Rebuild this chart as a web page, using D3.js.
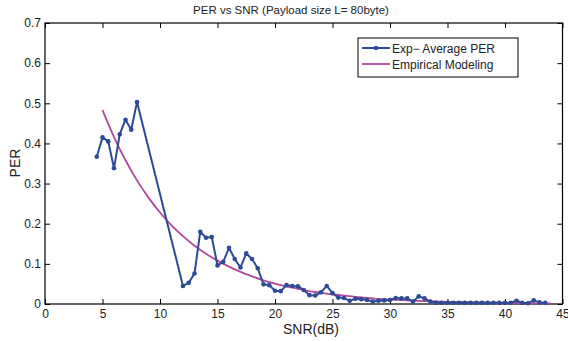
<!DOCTYPE html>
<html><head><meta charset="utf-8">
<script src="https://cdn.jsdelivr.net/npm/d3@7"></script>
<style>body{margin:0;background:#fff}svg{display:block}text{font-family:"Liberation Sans",Arial,sans-serif}</style>
</head><body><svg id="c" width="568" height="341"></svg>
<script>
const expSNR = [4.5,5,5.5,6,6.5,7,7.5,8,12,12.5,13,13.5,14,14.5,15,15.5,16,16.5,17,17.5,18,18.5,19,19.5,20,20.5,21,21.5,22,22.5,23,23.5,24,24.5,25,25.5,26,26.5,27,27.5,28,28.5,29,29.5,30,30.5,31,31.5,32,32.5,33,33.5,34,34.5,35,35.5,36,36.5,37,37.5,38,38.5,39,39.5,40,40.5,41,41.5,42,42.5,43,43.5];
const expPER = [0.367,0.415,0.405,0.338,0.423,0.459,0.434,0.503,0.045,0.053,0.076,0.180,0.165,0.167,0.096,0.105,0.140,0.112,0.091,0.126,0.112,0.089,0.049,0.047,0.033,0.032,0.047,0.045,0.044,0.035,0.022,0.021,0.029,0.045,0.027,0.016,0.015,0.008,0.013,0.012,0.010,0.006,0.008,0.009,0.010,0.015,0.014,0.014,0.006,0.019,0.014,0.006,0.003,0.003,0.003,0.003,0.003,0.003,0.003,0.003,0.003,0.003,0.003,0.003,0.003,0.003,0.008,0.003,0.002,0.009,0.004,0.003];
const modelSNR = [5,6,7,8,9,10,11,12,13,14,15,16,17,18,19,20,21,22,23,24,25,26,27,28,29,30,31,32,33,34,35,36,37,38,39,40,41,42,43,44];
const modelPER = [0.483,0.416,0.358,0.308,0.265,0.228,0.196,0.169,0.145,0.125,0.108,0.093,0.080,0.069,0.059,0.051,0.044,0.038,0.032,0.028,0.024,0.021,0.018,0.015,0.013,0.011,0.0097,0.0084,0.0072,0.0062,0.0054,0.0046,0.004,0.0034,0.003,0.0026,0.0022,0.0019,0.0016,0.0014];
const xTicks = [0,5,10,15,20,25,30,35,40,45];
const yTicks = [0,0.1,0.2,0.3,0.4,0.5,0.6,0.7];
const legendLabels = ["Exp\u2212 Average PER","Empirical Modeling"];
const titleText = "PER vs SNR (Payload size L= 80byte)";

const svg = d3.select("#c");
const L=45, R=562.5, T=23, B=304;
const x = d3.scaleLinear().domain([0,45]).range([L,R]);
const y = d3.scaleLinear().domain([0,0.7]).range([B,T]);
const blue="#2c4a96", pink="#b3489b";

svg.append("rect").attr("x",L).attr("y",T).attr("width",R-L).attr("height",B-T)
  .attr("fill","none").attr("stroke","#000").attr("stroke-width",1.2);
const tl=5;
const gx=svg.append("g").attr("transform",`translate(0,${B})`)
  .call(d3.axisBottom(x).tickValues(xTicks).tickSizeInner(-tl).tickSizeOuter(0).tickPadding(5).tickFormat(d3.format("d")));
const gxt=svg.append("g").attr("transform",`translate(0,${T})`)
  .call(d3.axisTop(x).tickValues(xTicks).tickSizeInner(-tl).tickSizeOuter(0).tickFormat(""));
const gy=svg.append("g").attr("transform",`translate(${L},0)`)
  .call(d3.axisLeft(y).tickValues(yTicks).tickSizeInner(-tl).tickSizeOuter(0).tickPadding(4).tickFormat(d=>d===0?"0":d3.format(".1f")(d)));
const gyr=svg.append("g").attr("transform",`translate(${R},0)`)
  .call(d3.axisRight(y).tickValues(yTicks).tickSizeInner(-tl).tickSizeOuter(0).tickFormat(""));
[gx,gxt,gy,gyr].forEach(g=>{g.select(".domain").remove();
  g.selectAll("line").attr("stroke","#000").attr("stroke-width",1);
  g.selectAll("text").attr("fill","#222").style("font-size","12px").style("font-family","'Liberation Sans',Arial,sans-serif");});

svg.append("path").datum(modelSNR.map((s,i)=>[s,modelPER[i]]))
  .attr("d",d3.line().x(d=>x(d[0])).y(d=>y(d[1])).curve(d3.curveMonotoneX))
  .attr("fill","none").attr("stroke",pink).attr("stroke-width",1.8);

const ed = expSNR.map((s,i)=>[s,expPER[i]]);
svg.append("path").datum(ed).attr("d",d3.line().x(d=>x(d[0])).y(d=>y(d[1])))
  .attr("fill","none").attr("stroke",blue).attr("stroke-width",2).attr("stroke-linejoin","round");
svg.append("g").selectAll("circle").data(ed).join("circle")
  .attr("cx",d=>x(d[0])).attr("cy",d=>y(d[1])).attr("r",2.3).attr("fill",blue);

svg.append("text").attr("x",291).attr("y",14).attr("text-anchor","middle").style("font-size","11.5px").attr("fill","#222").text(titleText);
svg.append("text").attr("x",311).attr("y",334).attr("text-anchor","middle").style("font-size","14px").attr("fill","#222").text("SNR(dB)");
svg.append("text").attr("transform","translate(20,163) rotate(-90)").attr("text-anchor","middle").style("font-size","14px").attr("fill","#222").text("PER");

const lg=svg.append("g");
lg.append("rect").attr("x",358).attr("y",38).attr("width",160).attr("height",39).attr("fill","#fff").attr("stroke","#000").attr("stroke-width",1);
[[blue,true],[pink,false]].forEach(([c,m],i)=>{
  const yy=48+i*16;
  lg.append("line").attr("x1",362).attr("x2",390).attr("y1",yy).attr("y2",yy).attr("stroke",c).attr("stroke-width",m?2:1.8);
  if(m) lg.append("circle").attr("cx",376).attr("cy",yy).attr("r",2.3).attr("fill",c);
  lg.append("text").attr("x",392).attr("y",yy+4.5).style("font-size","12px").attr("fill","#222").text(legendLabels[i]);
});
</script></body></html>
